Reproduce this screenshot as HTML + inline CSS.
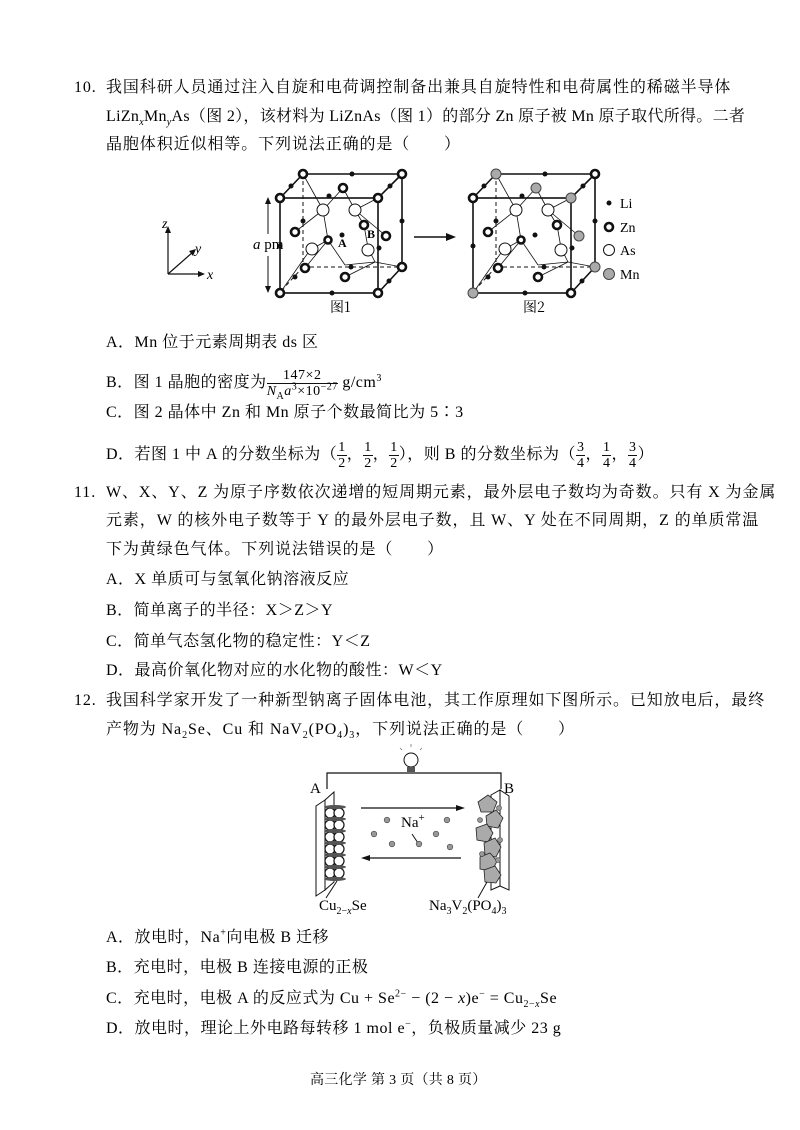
<!DOCTYPE html>
<html><head><meta charset="utf-8"><style>
body{margin:0;background:#fff;}
.p{position:relative;width:800px;height:1130px;overflow:hidden;font-family:"Liberation Serif","Noto Serif CJK SC","Noto Sans CJK SC",serif;color:#000;font-size:16px;}
.l{position:absolute;white-space:nowrap;line-height:20px;letter-spacing:0.9px;}
.o{letter-spacing:0.5px;}
sub,sup{font-size:10px;line-height:0;}
.fr{display:inline-block;vertical-align:middle;text-align:center;font-size:14px;line-height:15px;}
.fr span{display:block;}
.fr .n{border-bottom:1px solid #111;padding:0 1px;}
</style></head><body><div class="p">
<div class="l" style="left:74px;top:78px">10.</div>
<div class="l" style="left:106px;top:78px">我国科研人员通过注入自旋和电荷调控制备出兼具自旋特性和电荷属性的稀磁半导体</div>
<div class="l" style="left:106px;top:107px;letter-spacing:0.3px">LiZn<sub><i>x</i></sub>Mn<sub><i>y</i></sub>As（图 2），该材料为 LiZnAs（图 1）的部分 Zn 原子被 Mn 原子取代所得。二者</div>
<div class="l" style="left:106px;top:135px">晶胞体积近似相等。下列说法正确的是（　　）</div>

<svg style="position:absolute;left:0;top:0" width="800" height="330" font-family="Liberation Serif" font-size="14">
<g stroke="#111" stroke-width="1.2" fill="none">
<line x1="168" y1="274" x2="168" y2="230"/><line x1="168" y1="274" x2="200" y2="274"/><line x1="168" y1="274" x2="193" y2="252"/>
</g>
<polygon points="168,226 165,233 171,233" fill="#111"/><polygon points="205,274 198,271 198,277" fill="#111"/><polygon points="196,249 189,251 193,256" fill="#111"/>
<text x="162" y="228" font-style="italic">z</text><text x="195" y="253" font-style="italic">y</text><text x="207" y="279" font-style="italic">x</text>
<line x1="268" y1="200" x2="268" y2="234" stroke="#111"/><line x1="268" y1="256" x2="268" y2="291" stroke="#111"/>
<polygon points="268,197 265,204 271,204" fill="#111"/><polygon points="268,293 265,286 271,286" fill="#111"/>
<text x="253" y="249" font-size="15"><tspan font-style="italic">a</tspan> pm</text>
<line x1="414" y1="237" x2="448" y2="237" stroke="#111" stroke-width="1.5"/><polygon points="456,237 446,233 446,241" fill="#111"/>
<g id="c1">
<g stroke="#111" fill="none" stroke-width="1.6">
<rect x="280" y="198" width="98" height="95"/>
<line x1="303" y1="174" x2="402" y2="174"/><line x1="402" y1="174" x2="402" y2="267"/>
<line x1="280" y1="198" x2="303" y2="174"/><line x1="378" y1="198" x2="402" y2="174"/><line x1="378" y1="293" x2="402" y2="267"/>
</g>
<g stroke="#111" fill="none" stroke-width="1" stroke-dasharray="4,3">
<line x1="303" y1="174" x2="303" y2="267"/><line x1="303" y1="267" x2="402" y2="267"/><line x1="303" y1="267" x2="282" y2="290"/>
</g>
<g stroke="#111" stroke-width="0.8" fill="none">
<line x1="303" y1="174" x2="323" y2="210"/><line x1="343" y1="188" x2="323" y2="210"/><line x1="343" y1="188" x2="355" y2="210"/><line x1="378" y1="198" x2="355" y2="210"/>
<line x1="323" y1="210" x2="295" y2="232"/><line x1="323" y1="210" x2="328" y2="240"/><line x1="355" y1="210" x2="364" y2="225"/><line x1="355" y1="210" x2="386" y2="236"/>
<line x1="328" y1="240" x2="310" y2="250"/><line x1="328" y1="240" x2="305" y2="268"/><line x1="328" y1="240" x2="345" y2="265"/><line x1="345" y1="265" x2="375" y2="262"/>
<line x1="364" y1="225" x2="368" y2="248"/><line x1="368" y1="248" x2="375" y2="262"/><line x1="375" y1="262" x2="345" y2="277"/><line x1="375" y1="262" x2="402" y2="267"/>
<line x1="280" y1="293" x2="310" y2="250"/>
</g>
</g>
<g stroke="#111" stroke-width="2.6" fill="#fff">
<circle cx="303" cy="174" r="4"/><circle cx="402" cy="174" r="4"/><circle cx="280" cy="198" r="4"/><circle cx="378" cy="198" r="4"/><circle cx="280" cy="293" r="4"/><circle cx="378" cy="293" r="4"/><circle cx="402" cy="267" r="4"/>
<circle cx="343" cy="188" r="4"/><circle cx="295" cy="232" r="4"/><circle cx="328" cy="240" r="3.5"/><circle cx="364" cy="225" r="4"/><circle cx="386" cy="236" r="4"/><circle cx="305" cy="268" r="4"/><circle cx="345" cy="277" r="4"/>
</g>
<g stroke="#111" stroke-width="1" fill="#fff">
<circle cx="323" cy="210" r="6"/><circle cx="355" cy="210" r="6"/><circle cx="312" cy="249" r="6"/><circle cx="368" cy="250" r="6"/>
</g>
<g fill="#111">
<circle cx="352" cy="174" r="2.5"/><circle cx="291" cy="186" r="2.5"/><circle cx="390" cy="186" r="2.5"/><circle cx="329" cy="196" r="2.5"/><circle cx="303" cy="221" r="2.5"/><circle cx="402" cy="221" r="2.5"/><circle cx="280" cy="246" r="2.5"/><circle cx="342" cy="235" r="2.5"/><circle cx="379" cy="248" r="2.5"/><circle cx="351" cy="267" r="2.5"/><circle cx="295" cy="277" r="2.5"/><circle cx="389" cy="281" r="2.5"/><circle cx="332" cy="293" r="2.5"/>
</g>
<text x="338" y="247" font-size="12" font-weight="bold">A</text><text x="367" y="238" font-size="12" font-weight="bold">B</text>
<text x="330" y="312" font-family="Noto Serif CJK SC,serif" font-size="14">图1</text>
<g transform="translate(193,0)">
<g stroke="#111" fill="none" stroke-width="1.6">
<rect x="280" y="198" width="98" height="95"/>
<line x1="303" y1="174" x2="402" y2="174"/><line x1="402" y1="174" x2="402" y2="267"/>
<line x1="280" y1="198" x2="303" y2="174"/><line x1="378" y1="198" x2="402" y2="174"/><line x1="378" y1="293" x2="402" y2="267"/>
</g>
<g stroke="#111" fill="none" stroke-width="1" stroke-dasharray="4,3">
<line x1="303" y1="174" x2="303" y2="267"/><line x1="303" y1="267" x2="402" y2="267"/><line x1="303" y1="267" x2="282" y2="290"/>
</g>
<g stroke="#111" stroke-width="0.8" fill="none">
<line x1="303" y1="174" x2="323" y2="210"/><line x1="343" y1="188" x2="323" y2="210"/><line x1="343" y1="188" x2="355" y2="210"/><line x1="378" y1="198" x2="355" y2="210"/>
<line x1="323" y1="210" x2="295" y2="232"/><line x1="323" y1="210" x2="328" y2="240"/><line x1="355" y1="210" x2="364" y2="225"/><line x1="355" y1="210" x2="386" y2="236"/>
<line x1="328" y1="240" x2="310" y2="250"/><line x1="328" y1="240" x2="305" y2="268"/><line x1="328" y1="240" x2="345" y2="265"/><line x1="345" y1="265" x2="375" y2="262"/>
<line x1="364" y1="225" x2="368" y2="248"/><line x1="368" y1="248" x2="375" y2="262"/><line x1="375" y1="262" x2="345" y2="277"/><line x1="375" y1="262" x2="402" y2="267"/>
<line x1="280" y1="293" x2="310" y2="250"/>
</g>
<g stroke="#111" stroke-width="2.6" fill="#fff">
<circle cx="402" cy="174" r="4"/><circle cx="280" cy="198" r="4"/><circle cx="378" cy="293" r="4"/>
<circle cx="295" cy="232" r="4"/><circle cx="328" cy="240" r="3.5"/><circle cx="364" cy="225" r="4"/><circle cx="305" cy="268" r="4"/><circle cx="345" cy="277" r="4"/>
</g>
<g stroke="#444" stroke-width="1" fill="#aaa">
<circle cx="303" cy="174" r="5"/><circle cx="343" cy="188" r="5"/><circle cx="378" cy="198" r="5"/><circle cx="386" cy="236" r="5"/><circle cx="402" cy="267" r="5"/><circle cx="280" cy="293" r="5"/>
</g>
<g stroke="#111" stroke-width="1" fill="#fff">
<circle cx="323" cy="210" r="6"/><circle cx="355" cy="210" r="6"/><circle cx="312" cy="249" r="6"/><circle cx="368" cy="250" r="6"/>
</g>
<g fill="#111">
<circle cx="352" cy="174" r="2.5"/><circle cx="291" cy="186" r="2.5"/><circle cx="390" cy="186" r="2.5"/><circle cx="329" cy="196" r="2.5"/><circle cx="303" cy="221" r="2.5"/><circle cx="402" cy="221" r="2.5"/><circle cx="280" cy="246" r="2.5"/><circle cx="342" cy="235" r="2.5"/><circle cx="379" cy="248" r="2.5"/><circle cx="351" cy="267" r="2.5"/><circle cx="295" cy="277" r="2.5"/><circle cx="389" cy="281" r="2.5"/><circle cx="332" cy="293" r="2.5"/>
</g>
<text x="330" y="312" font-family="Noto Serif CJK SC,serif" font-size="14">图2</text>
</g>
<circle cx="609" cy="203" r="2.5" fill="#111"/><text x="620" y="208">Li</text>
<circle cx="609" cy="227" r="4" fill="#fff" stroke="#111" stroke-width="2.6"/><text x="620" y="232">Zn</text>
<circle cx="609" cy="250" r="5.5" fill="#fff" stroke="#111"/><text x="620" y="255">As</text>
<circle cx="609" cy="274" r="5.5" fill="#aaa" stroke="#444"/><text x="620" y="279">Mn</text>
</svg>

<div class="l o" style="left:106px;top:333px">A．Mn 位于元素周期表 ds 区</div>
<div class="l o" style="left:106px;top:368px">B．图 1 晶胞的密度为<span class="fr"><span class="n">147×2</span><span><i>N</i><sub>A</sub><i>a</i><sup>3</sup>×10<sup>−27</sup></span></span> g/cm<sup>3</sup></div>
<div class="l o" style="left:106px;top:403px">C．图 2 晶体中 Zn 和 Mn 原子个数最简比为 5∶3</div>
<div class="l o" style="left:106px;top:440px">D．若图 1 中 A 的分数坐标为（<span class="fr"><span class="n">1</span><span>2</span></span>，<span class="fr"><span class="n">1</span><span>2</span></span>，<span class="fr"><span class="n">1</span><span>2</span></span>），则 B 的分数坐标为（<span class="fr"><span class="n">3</span><span>4</span></span>，<span class="fr"><span class="n">1</span><span>4</span></span>，<span class="fr"><span class="n">3</span><span>4</span></span>）</div>

<div class="l" style="left:74px;top:483px">11.</div>
<div class="l" style="left:106px;top:483px">W、X、Y、Z 为原子序数依次递增的短周期元素，最外层电子数均为奇数。只有 X 为金属</div>
<div class="l" style="left:106px;top:511px">元素，W 的核外电子数等于 Y 的最外层电子数，且 W、Y 处在不同周期，Z 的单质常温</div>
<div class="l" style="left:106px;top:540px">下为黄绿色气体。下列说法错误的是（　　）</div>
<div class="l o" style="left:106px;top:570px">A．X 单质可与氢氧化钠溶液反应</div>
<div class="l o" style="left:106px;top:601px">B．简单离子的半径：X＞Z＞Y</div>
<div class="l o" style="left:106px;top:632px">C．简单气态氢化物的稳定性：Y＜Z</div>
<div class="l o" style="left:106px;top:661px">D．最高价氧化物对应的水化物的酸性：W＜Y</div>

<div class="l" style="left:74px;top:691px">12.</div>
<div class="l" style="left:106px;top:691px">我国科学家开发了一种新型钠离子固体电池，其工作原理如下图所示。已知放电后，最终</div>
<div class="l" style="left:106px;top:720px">产物为 Na<sub>2</sub>Se、Cu 和 NaV<sub>2</sub>(PO<sub>4</sub>)<sub>3</sub>，下列说法正确的是（　　）</div>

<svg style="position:absolute;left:0;top:740px" width="800" height="180" font-family="Liberation Serif" font-size="14">
<polyline points="327,49 327,33 501,33 501,49" fill="none" stroke="#111" stroke-width="1.2"/>
<circle cx="411" cy="20" r="7" fill="#fff" stroke="#111"/><rect x="407" y="27" width="8" height="5" fill="#555"/>
<g stroke="#777" stroke-width="0.8"><line x1="400" y1="8" x2="402" y2="10"/><line x1="411" y1="4" x2="411" y2="7"/><line x1="422" y1="8" x2="420" y2="10"/></g>
<text x="310" y="53" font-size="15">A</text><text x="504" y="53" font-size="15">B</text>
<polygon points="316,66 325,60 325,150 316,156" fill="#fff" stroke="#111"/>
<polygon points="325,60 334,52 334,142 325,150" fill="#fff" stroke="#111"/>
<g fill="#fff" stroke="#111" stroke-width="1.2">
<circle cx="330" cy="73" r="5"/><circle cx="339" cy="73" r="5"/><circle cx="330" cy="85" r="5"/><circle cx="339" cy="85" r="5"/><circle cx="330" cy="97" r="5"/><circle cx="339" cy="97" r="5"/><circle cx="330" cy="109" r="5"/><circle cx="339" cy="109" r="5"/><circle cx="330" cy="121" r="5"/><circle cx="339" cy="121" r="5"/><circle cx="330" cy="133" r="5"/><circle cx="339" cy="133" r="5"/>
</g>
<g fill="#555"><ellipse cx="335" cy="67" rx="11" ry="2"/><ellipse cx="335" cy="79" rx="11" ry="2"/><ellipse cx="335" cy="91" rx="11" ry="2"/><ellipse cx="335" cy="103" rx="11" ry="2"/><ellipse cx="335" cy="115" rx="11" ry="2"/><ellipse cx="335" cy="127" rx="11" ry="2"/><ellipse cx="335" cy="139" rx="11" ry="2"/></g>
<line x1="337" y1="141" x2="326" y2="158" stroke="#111"/>
<polygon points="491,55 500,50 500,146 491,150" fill="#fff" stroke="#111"/>
<polygon points="500,50 509,56 509,150 500,146" fill="#fff" stroke="#111"/>
<g fill="#aaa" stroke="#222" stroke-width="0.8">
<polygon points="478,62 488,55 497,62 493,72 481,72"/><polygon points="486,76 496,70 503,78 498,88 487,86"/><polygon points="476,88 487,84 493,93 488,102 477,100"/><polygon points="484,103 495,98 501,107 496,117 485,115"/><polygon points="480,117 490,113 497,121 492,131 480,129"/><polygon points="484,130 495,126 501,135 496,143 485,142"/>
</g>
<g fill="#999" stroke="#444" stroke-width="0.6"><circle cx="499" cy="68" r="2.5"/><circle cx="480" cy="80" r="2.5"/><circle cx="500" cy="100" r="2.5"/><circle cx="482" cy="114" r="2.5"/><circle cx="498" cy="120" r="2.5"/></g>
<line x1="487" y1="142" x2="478" y2="158" stroke="#111"/>
<line x1="361" y1="68" x2="458" y2="68" stroke="#111" stroke-width="1.3"/><polygon points="465,68 456,65 456,71" fill="#111"/>
<line x1="368" y1="118" x2="461" y2="118" stroke="#111" stroke-width="1.3"/><polygon points="361,118 370,115 370,121" fill="#111"/>
<text x="401" y="87" font-size="15">Na<tspan font-size="11" dy="-6">+</tspan></text>
<line x1="412" y1="94" x2="418" y2="103" stroke="#111"/>
<g fill="#999" stroke="#444" stroke-width="0.6"><circle cx="387" cy="80" r="2.8"/><circle cx="447" cy="80" r="2.8"/><circle cx="374" cy="94" r="2.8"/><circle cx="436" cy="94" r="2.8"/><circle cx="392" cy="104" r="2.8"/><circle cx="419" cy="104" r="2.8"/><circle cx="450" cy="107" r="2.8"/></g>
<text x="319" y="170" font-size="15">Cu<tspan font-size="10" dy="4">2−<tspan font-style="italic">x</tspan></tspan><tspan dy="-4">Se</tspan></text>
<text x="429" y="170" font-size="15">Na<tspan font-size="10" dy="4">3</tspan><tspan dy="-4">V</tspan><tspan font-size="10" dy="4">2</tspan><tspan dy="-4">(PO</tspan><tspan font-size="10" dy="4">4</tspan><tspan dy="-4">)</tspan><tspan font-size="10" dy="4">3</tspan></text>
</svg>

<div class="l o" style="left:106px;top:928px">A．放电时，Na<sup>+</sup>向电极 B 迁移</div>
<div class="l o" style="left:106px;top:958px">B．充电时，电极 B 连接电源的正极</div>
<div class="l o" style="left:106px;top:989px">C．充电时，电极 A 的反应式为 Cu + Se<sup>2−</sup> − (2 − <i>x</i>)e<sup>−</sup> = Cu<sub>2−<i>x</i></sub>Se</div>
<div class="l o" style="left:106px;top:1019px">D．放电时，理论上外电路每转移 1 mol e<sup>−</sup>，负极质量减少 23 g</div>
<div class="l" style="left:310px;top:1071px;font-size:14px;letter-spacing:0.3px">高三化学 第 3 页（共 8 页）</div>
</div></body></html>
